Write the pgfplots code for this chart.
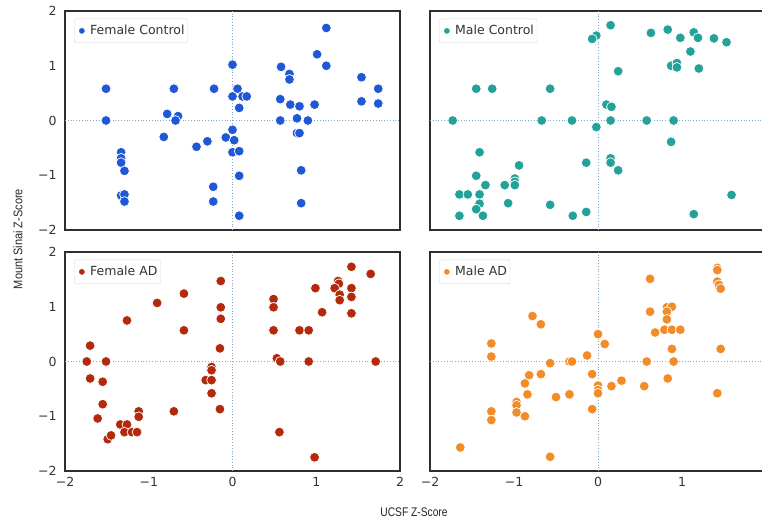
\documentclass[border=0pt]{standalone}
\usepackage{pgfplots}
\pgfplotsset{compat=1.18}
\usepackage{fontspec}
\setmainfont{DejaVu Sans}
\newfontfamily\labfont{Liberation Sans}
\definecolor{cFC}{HTML}{1F57D6}
\definecolor{cMC}{HTML}{23A29A}
\definecolor{cFA}{HTML}{B3290B}
\definecolor{cMA}{HTML}{F28C28}
\definecolor{frame}{HTML}{2E2E2E}
\definecolor{dotc}{HTML}{7FA9CF}
\pgfplotsset{
  panel/.style={
    scale only axis, anchor=south west,
    xmin=-2, xmax=2, ymin=-2, ymax=2,
    axis line style={frame, line width=1.1pt},
    major tick length=0pt,
    xtick={-2,-1,0,1,2}, ytick={-2,-1,0,1,2},
    tick label style={font=\fontsize{12.5}{14}\selectfont, color=black!80},
    yticklabel style={xshift=-5pt},
    xticklabel style={yshift=-3pt},
    legend cell align=left,
    legend style={at={(0.027,0.965)}, anchor=north west, draw=black!15, rounded corners=2pt,
      font=\fontsize{12.5}{14}\selectfont, text=black!80, inner xsep=2pt, inner ysep=3pt,
      nodes={inner xsep=1pt, inner ysep=3.5pt}},
    clip=false,
  },
  pts/.style={only marks, mark=*, mark size=4.9pt, mark options={draw=white, line width=0.7pt, fill=#1}, forget plot},
}
\newcommand{\legimg}[1]{\addlegendimage{legend image code/.code={\path (-0.02cm,0) (0.42cm,0); \fill[#1] (0.17cm,0) circle (2.6pt);}}}
\newcommand{\guides}{%
  \addplot[dotted, dotc, line width=0.8pt, forget plot] coordinates {(0,-2) (0,2)};
  \addplot[dotted, dotc, line width=0.8pt, forget plot] coordinates {(-2,0) (2,0)};
}
\begin{document}
\begin{tikzpicture}
\useasboundingbox (0,0) rectangle (762pt,522pt);
\clip (0,0) rectangle (762pt,522pt);
% Female Control
\begin{axis}[panel, at={(65pt,292pt)}, width=335pt, height=219pt,
  xticklabels={}, yticklabels={−2,−1,0,1,2}]
\guides
\legimg{cFC}
\addplot[pts=cFC] coordinates {
(1.12,1.69) (1.01,1.21) (1.12,1.00) (0.00,1.02) (0.58,0.98) (0.68,0.85) (0.68,0.75)
(1.54,0.79) (-1.51,0.58) (-0.70,0.58) (-0.22,0.58) (0.06,0.58) (0.00,0.44) (0.12,0.44)
(0.17,0.44) (1.74,0.58) (0.57,0.39) (0.69,0.29) (0.80,0.26) (0.98,0.29) (1.54,0.35)
(1.74,0.31) (0.08,0.23) (-1.51,0.00) (-0.78,0.12) (-0.65,0.08) (-0.68,0.00) (0.57,0.00)
(0.77,0.04) (0.90,0.00) (0.00,-0.17) (-0.82,-0.30) (-0.08,-0.31) (0.02,-0.36) (-0.30,-0.38)
(-0.43,-0.48) (0.77,-0.23) (0.80,-0.23) (-1.33,-0.58) (-1.33,-0.69) (-1.33,-0.77)
(-1.29,-0.92) (0.00,-0.58) (0.08,-0.56) (0.08,-1.01) (0.82,-0.91) (-0.23,-1.21)
(-0.23,-1.48) (-1.33,-1.37) (-1.29,-1.35) (-1.29,-1.48) (0.08,-1.74) (0.82,-1.51)
};
\addlegendentry{Female Control}
\end{axis}
% Male Control
\begin{axis}[panel, at={(430pt,292pt)}, width=336pt, height=219pt,
  xticklabels={}, yticklabels={}]
\guides
\legimg{cMC}
\addplot[pts=cMC] coordinates {
(0.15,1.74) (-0.02,1.55) (-0.07,1.49) (0.63,1.60) (0.83,1.66) (0.98,1.51) (1.14,1.61)
(1.19,1.51) (1.38,1.50) (1.53,1.43) (1.10,1.26) (0.87,1.00) (0.94,1.05) (0.94,0.97)
(1.20,0.95) (0.24,0.90) (-1.45,0.58) (-1.26,0.58) (-0.57,0.58) (0.10,0.29) (0.16,0.25)
(-1.73,0.00) (-0.67,0.00) (-0.31,0.00) (0.15,0.00) (0.58,0.00) (0.90,0.00) (-0.02,-0.12)
(0.87,-0.39) (-1.41,-0.58) (-0.94,-0.82) (-0.14,-0.77) (0.15,-0.69) (0.15,-0.77)
(0.24,-0.91) (-1.45,-1.01) (-0.99,-1.06) (-0.99,-1.12) (-0.99,-1.18) (-1.34,-1.18)
(-1.11,-1.18) (-1.65,-1.35) (-1.55,-1.35) (-1.41,-1.35) (-1.41,-1.52) (-1.45,-1.62)
(-1.07,-1.51) (-0.57,-1.54) (-1.65,-1.74) (-1.37,-1.74) (-0.30,-1.74) (-0.14,-1.67)
(1.14,-1.71) (1.59,-1.36)
};
\addlegendentry{Male Control}
\end{axis}
% Female AD
\begin{axis}[panel, at={(65pt,51pt)}, width=335pt, height=219pt,
  xticklabels={−2,−1,0,1,2}, yticklabels={−2,−1,0,1,2}]
\guides
\legimg{cFA}
\addplot[pts=cFA] coordinates {
(1.42,1.73) (1.65,1.60) (1.26,1.47) (1.27,1.42) (0.99,1.34) (1.22,1.34) (1.42,1.34)
(1.28,1.22) (1.28,1.12) (1.42,1.18) (1.42,0.88) (1.07,0.90) (0.49,1.14) (0.49,0.99)
(0.49,0.57) (0.80,0.57) (0.91,0.57) (-0.14,1.47) (-0.14,0.99) (-0.14,0.78) (-0.15,0.24)
(-0.58,1.24) (-0.90,1.07) (-1.26,0.75) (-0.58,0.57) (-1.70,0.29) (-1.74,0.00) (-1.51,0.00)
(-1.70,-0.31) (-1.55,-0.37) (-1.55,-0.78) (-1.61,-1.04) (-1.49,-1.42) (-1.45,-1.35)
(-1.34,-1.15) (-1.26,-1.15) (-1.29,-1.29) (-1.20,-1.29) (-1.14,-1.29) (-1.12,-0.91)
(-1.12,-1.01) (-0.70,-0.91) (-0.25,-0.10) (-0.25,-0.16) (-0.32,-0.34) (-0.25,-0.34)
(-0.25,-0.58) (-0.15,-0.87) (0.53,0.06) (0.57,0.00) (0.91,0.00) (1.71,0.00)
(0.56,-1.29) (0.98,-1.75)
};
\addlegendentry{Female AD}
\end{axis}
% Male AD
\begin{axis}[panel, at={(430pt,51pt)}, width=336pt, height=219pt,
  xtick={-2,-1,0,1}, xticklabels={−2,−1,0,1}, yticklabels={}]
\guides
\legimg{cMA}
\addplot[pts=cMA] coordinates {
(1.42,1.71) (1.42,1.67) (1.42,1.46) (1.44,1.40) (1.46,1.33) (0.62,1.51) (0.62,0.91)
(0.82,0.99) (0.88,1.00) (0.82,0.91) (0.82,0.77) (0.68,0.53) (0.79,0.58) (0.88,0.58)
(0.98,0.58) (0.88,0.23) (1.46,0.23) (0.90,0.00) (0.58,0.00) (1.42,-0.58) (0.83,-0.31)
(0.55,-0.45) (0.28,-0.35) (0.16,-0.45) (0.00,-0.44) (0.00,-0.52) (0.00,-0.58)
(-0.07,-0.23) (-0.07,-0.87) (0.00,0.50) (0.08,0.32) (-0.13,0.11) (-0.34,0.00)
(-0.31,0.00) (-0.57,-0.03) (-0.68,-0.23) (-0.78,0.83) (-0.68,0.68) (-1.27,0.33)
(-1.27,0.09) (-0.82,-0.25) (-0.87,-0.40) (-0.84,-0.60) (-0.50,-0.65) (-0.34,-0.60)
(-0.97,-0.74) (-0.97,-0.80) (-0.97,-0.93) (-0.87,-1.00) (-1.27,-0.91) (-1.27,-1.07)
(-1.64,-1.57) (-0.57,-1.74)
};
\addlegendentry{Male AD}
\end{axis}
\node[font=\labfont\fontsize{12.5}{14}\selectfont, text=black!85] at (414pt,10pt) {\scalebox{0.82}[1]{UCSF Z-Score}};
\node[font=\labfont\fontsize{12.5}{14}\selectfont, text=black!85, rotate=90] at (18pt,283pt) {\scalebox{0.88}[1]{Mount Sinai Z-Score}};
\end{tikzpicture}
\end{document}
